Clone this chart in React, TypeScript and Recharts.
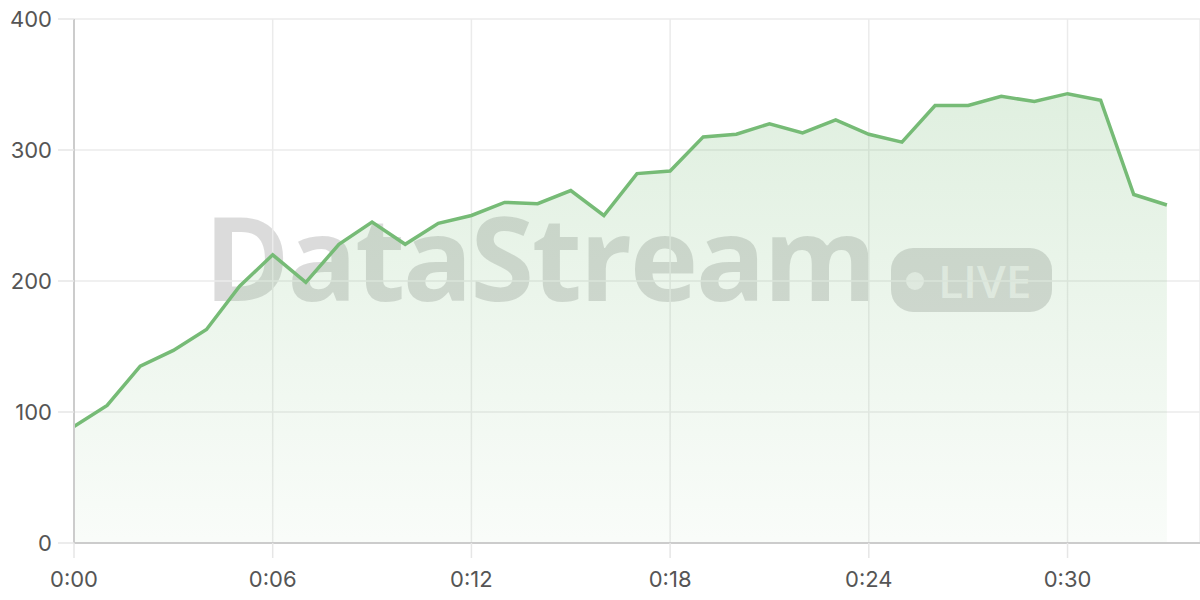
import React from "react";
import { AreaChart, Area, XAxis, YAxis, CartesianGrid } from "recharts";

// minutes since start
const minutes = [
  0, 1, 2, 3, 4, 5, 6, 7, 8, 9, 10, 11, 12, 13, 14, 15, 16,
  17, 18, 19, 20, 21, 22, 23, 24, 25, 26, 27, 28, 29, 30, 31, 32, 33,
];
const values = [
  89, 105, 135, 147, 163, 196, 220, 199, 228, 245, 228, 244, 250, 260, 259, 269, 250,
  282, 284, 310, 312, 320, 313, 323, 312, 306, 334, 334, 341, 337, 343, 338, 266, 258,
];
const xTicks = [0, 6, 12, 18, 24, 30];
const yTicks = [0, 100, 200, 300, 400];

const data = minutes.map((t, i) => ({ t, value: values[i] }));

const fmtTime = (m: number) => `0:${String(m).padStart(2, "0")}`;

const tickStyle = { fill: "#555", fontSize: 22, fontFamily: "Inter, sans-serif" };

export default function App() {
  return (
    <div style={{ position: "relative", width: 1200, height: 600 }}>
      <style>{"body{margin:0}"}</style>
      {/* watermark sits behind the translucent area */}
      <div
        style={{
          position: "absolute",
          left: 0,
          top: 0,
          width: 1200,
          height: 600,
          fontFamily: "'Open Sans', sans-serif",
          pointerEvents: "none",
        }}
      >
        <div
          style={{
            position: "absolute",
            left: 204,
            top: 198,
            fontSize: 116,
            fontWeight: 700,
            letterSpacing: -2.5,
            lineHeight: 1,
            color: "rgba(0,0,0,0.14)",
            whiteSpace: "nowrap",
          }}
        >
          DataStream
        </div>
        <div
          style={{
            position: "absolute",
            left: 891,
            top: 248,
            width: 161,
            height: 64,
            borderRadius: 22,
            background: "rgba(0,0,0,0.14)",
          }}
        >
          <div
            style={{
              position: "absolute",
              left: 15,
              top: 24,
              width: 18,
              height: 18,
              borderRadius: 9,
              background: "rgba(255,255,255,0.6)",
            }}
          />
          <div
            style={{
              position: "absolute",
              left: 47,
              top: 4,
              fontSize: 46,
              fontWeight: 600,
              lineHeight: "56px",
              color: "rgba(255,255,255,0.6)",
            }}
          >
            LIVE
          </div>
        </div>
      </div>
      <div style={{ position: "relative" }}>
        <AreaChart width={1200} height={600} data={data} margin={{ top: 19, right: 0, bottom: 0, left: 0 }}>
          <defs>
            <linearGradient id="fillGreen" x1="0" y1="0" x2="0" y2="1">
              <stop offset="0%" stopColor="#76bb76" stopOpacity={0.38} />
              <stop offset="100%" stopColor="#76bb76" stopOpacity={0.07} />
            </linearGradient>
          </defs>
          <CartesianGrid stroke="#ebebeb" strokeWidth={1.5} />
          <XAxis
            type="number"
            dataKey="t"
            domain={[0, 34]}
            ticks={xTicks}
            tickFormatter={fmtTime}
            height={57}
            tickSize={15}
            tickMargin={13}
            axisLine={{ stroke: "#cccccc", strokeWidth: 2 }}
            tickLine={{ stroke: "#e6e6e6", strokeWidth: 1.5 }}
            tick={tickStyle}
          />
          <YAxis
            domain={[0, 400]}
            ticks={yTicks}
            width={74}
            tickSize={16}
            tickMargin={6}
            axisLine={{ stroke: "#cccccc", strokeWidth: 2 }}
            tickLine={{ stroke: "#e6e6e6", strokeWidth: 1.5 }}
            tick={tickStyle}
          />
          <Area
            type="linear"
            dataKey="value"
            stroke="#76bb76"
            strokeWidth={3.5}
            fill="url(#fillGreen)"
            dot={false}
            activeDot={false}
            isAnimationActive={false}
          />
        </AreaChart>
      </div>
    </div>
  );
}
